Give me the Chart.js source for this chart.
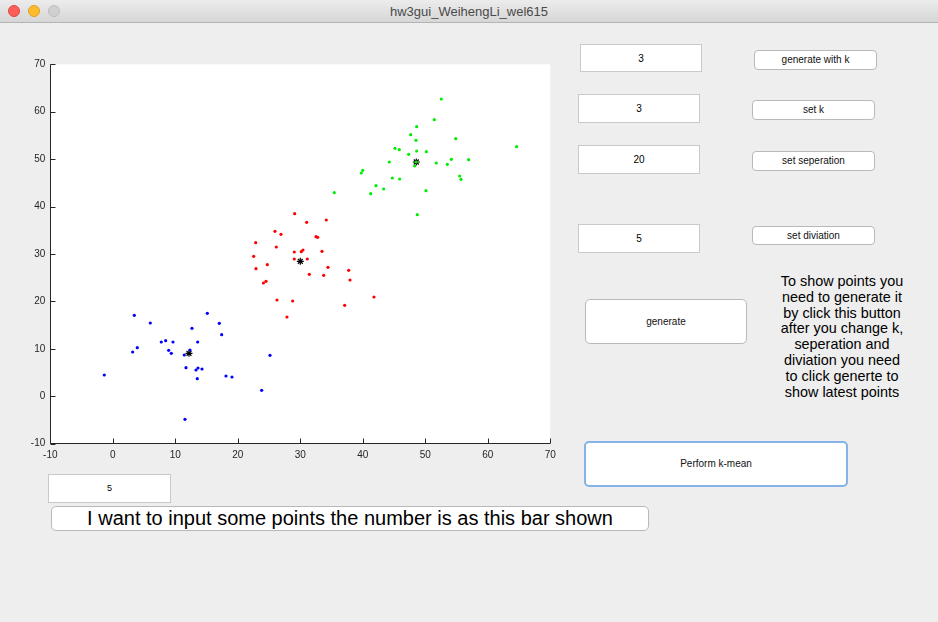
<!DOCTYPE html>
<html><head><meta charset="utf-8">
<script src="https://cdn.jsdelivr.net/npm/chart.js@4.4.0/dist/chart.umd.min.js"></script>
<style>
html,body{margin:0;padding:0;width:938px;height:622px;overflow:hidden;background:#eeeeee;font-family:"Liberation Sans",Arial,Helvetica,sans-serif;}
#titlebar{position:absolute;left:0;top:0;width:938px;height:23px;background:linear-gradient(#ececec,#d6d6d6);border-bottom:1px solid #b4b4b4;box-sizing:border-box;}
#title{position:absolute;left:0;right:0;top:4px;text-align:center;font-size:13px;color:#4a4a4a;}
.dot{position:absolute;top:5px;width:12px;height:12px;border-radius:50%;box-sizing:border-box;}
.edit{position:absolute;background:#fff;border:1px solid #c9c9c9;box-sizing:border-box;font-size:10px;color:#000;text-align:center;}
.btn{position:absolute;background:#fff;border:1px solid #b9b9b9;border-radius:4px;box-sizing:border-box;font-size:10px;color:#111;text-align:center;}
#wrap{position:absolute;left:0;top:40px;width:580px;height:430px;}
#info{position:absolute;left:752px;top:274px;width:180px;text-align:center;font-size:14.4px;line-height:15.8px;color:#000;}
</style>
</head>
<body>
<div id="titlebar">
  <div class="dot" style="left:8px;background:#fc5f57;border:1px solid #df4744;"></div>
  <div class="dot" style="left:28px;background:#fdbc2e;border:1px solid #dea123;"></div>
  <div class="dot" style="left:48px;background:#d0d0d0;border:1px solid #bdbdbd;"></div>
  <div id="title">hw3gui_WeihengLi_wel615</div>
</div>
<div id="wrap"><canvas id="c" width="580" height="430"></canvas></div>

<div class="edit" style="left:580px;top:44px;width:122px;height:28px;line-height:27px;">3</div>
<div class="btn" style="left:754px;top:50px;width:123px;height:20px;line-height:18px;">generate with k</div>
<div class="edit" style="left:578px;top:94px;width:122px;height:29px;line-height:27px;">3</div>
<div class="btn" style="left:752px;top:100px;width:123px;height:20px;line-height:18px;">set k</div>
<div class="edit" style="left:578px;top:145px;width:122px;height:29px;line-height:27px;">20</div>
<div class="btn" style="left:752px;top:151px;width:123px;height:20px;line-height:18px;">set seperation</div>
<div class="edit" style="left:578px;top:224px;width:122px;height:29px;line-height:27px;">5</div>
<div class="btn" style="left:752px;top:226px;width:123px;height:19px;line-height:17px;">set diviation</div>
<div class="btn" style="left:585px;top:299px;width:162px;height:45px;line-height:43px;border-radius:5px;">generate</div>
<div id="info">To show points you<br>need to generate it<br>by click this button<br>after you change k,<br>seperation and<br>diviation you need<br>to click generte to<br>show latest points</div>
<div class="btn" style="left:584px;top:441px;width:264px;height:46px;line-height:42px;border:2px solid #86b2ea;border-radius:5px;">Perform k-mean</div>
<div class="edit" style="left:48px;top:474px;width:123px;height:29px;line-height:27px;font-size:9px;">5</div>
<div class="btn" style="left:51px;top:506px;width:598px;height:25px;line-height:23px;font-size:20px;color:#000;border-radius:5px;">I want to input some points the number is as this bar shown</div>

<script>
// Cluster 1 (blue)
const blueX = [3.44,15.12,6.0,17.04,12.67,17.42,7.76,8.46,9.63,13.58,3.92,3.18,8.94,9.36,11.44,12.35,25.15,-1.36,11.71,13.63,13.31,14.27,13.52,18.11,19.07,23.82,11.55];
const blueY = [17.07,17.5,15.45,15.39,14.33,12.98,11.44,11.72,11.44,11.44,10.24,9.34,9.69,9.06,8.7,9.76,8.64,4.49,6.03,5.96,5.54,5.75,3.71,4.27,4.06,1.26,-4.86];
// Cluster 2 (red)
const redX = [29.1,31.02,34.16,25.95,26.91,32.51,32.78,22.86,26.16,29.04,30.16,30.43,33.47,22.54,29.04,31.12,24.72,22.91,34.43,37.74,31.44,33.74,37.95,24.51,24.1,26.27,28.78,41.79,37.1,27.87];
const redY = [38.5,36.68,37.17,34.79,34.15,33.65,33.52,32.38,31.48,30.42,30.48,30.84,30.57,29.51,28.95,28.95,27.74,26.9,27.2,26.56,25.72,25.51,24.52,24.24,23.88,20.3,20.09,20.93,19.18,16.72];
// Cluster 3 (green)
const greenX = [52.56,51.44,48.62,47.66,54.86,48.51,64.62,45.15,45.84,48.62,50.16,47.34,56.94,54.16,44.24,51.76,53.52,48.56,48.3,39.98,39.76,55.5,55.71,44.72,45.9,42.11,43.34,50.11,35.44,41.26,48.72];
const greenY = [62.68,58.32,56.84,55.16,54.31,53.97,52.63,52.29,51.99,51.72,51.57,51.02,49.88,49.97,49.4,49.19,48.91,49.4,48.56,47.65,47.08,46.45,45.75,46.03,45.81,44.4,43.71,43.35,42.93,42.71,38.29];
// Cluster centres (black asterisks)
const centerX = [12.19,30.0,48.56];
const centerY = [9.06,28.46,49.4];
const xTicks = [-10,0,10,20,30,40,50,60,70];
const yTicks = [-10,0,10,20,30,40,50,60,70];

const pts = (xs, ys) => xs.map((x, i) => ({x, y: ys[i]}));

const matlabAxes = {
  id: 'matlabAxes',
  beforeDraw(chart) {
    const {ctx, chartArea: a} = chart;
    ctx.save();
    ctx.fillStyle = '#ffffff';
    ctx.fillRect(a.left, a.top, a.right - a.left, a.bottom - a.top);
    ctx.restore();
  },
  afterDraw(chart) {
    const {ctx, chartArea: a, scales} = chart;
    ctx.save();
    ctx.strokeStyle = '#262626';
    ctx.lineWidth = 1;
    const L = Math.round(a.left) + 0.5, B = Math.round(a.bottom) - 0.5;
    ctx.beginPath();
    ctx.moveTo(L, a.top); ctx.lineTo(L, B);
    ctx.lineTo(a.right, B);
    xTicks.forEach(v => {
      const px = Math.round(scales.x.getPixelForValue(v)) + 0.5;
      ctx.moveTo(px, B); ctx.lineTo(px, B - 5);
    });
    yTicks.forEach(v => {
      const py = Math.round(scales.y.getPixelForValue(v)) + 0.5;
      ctx.moveTo(L, py); ctx.lineTo(L + 5, py);
    });
    ctx.stroke();
    ctx.restore();
  }
};

const tickFont = {family: '"Liberation Sans", Arial, sans-serif', size: 10};

new Chart(document.getElementById('c'), {
  type: 'scatter',
  data: {
    datasets: [
      {label: 'cluster 1', data: pts(blueX, blueY), backgroundColor: '#0000ff', borderWidth: 0, pointRadius: 1.6},
      {label: 'cluster 2', data: pts(redX, redY), backgroundColor: '#ff0000', borderWidth: 0, pointRadius: 1.6},
      {label: 'cluster 3', data: pts(greenX, greenY), backgroundColor: '#00ee00', borderWidth: 0, pointRadius: 1.6},
      {label: 'centres', data: pts(centerX, centerY), pointStyle: 'star', borderColor: '#000000', backgroundColor: '#000000', borderWidth: 1.2, pointRadius: 3.5}
    ]
  },
  options: {
    responsive: false,
    animation: false,
    devicePixelRatio: 1,
    layout: {padding: {left: 0, top: 24.3, right: 29.7, bottom: 0}},
    plugins: {legend: {display: false}, tooltip: {enabled: false}},
    scales: {
      x: {
        type: 'linear', min: -10, max: 70,
        afterBuildTicks: s => { s.ticks = xTicks.map(v => ({value: v})); },
        ticks: {color: '#262626', font: tickFont, padding: 6, maxRotation: 0},
        grid: {display: false, drawTicks: false},
        border: {display: false},
        afterFit: s => { s.height = 26.3; }
      },
      y: {
        type: 'linear', min: -10, max: 70,
        afterBuildTicks: s => { s.ticks = yTicks.map(v => ({value: v})); },
        ticks: {color: '#262626', font: tickFont, padding: 5},
        grid: {display: false, drawTicks: false},
        border: {display: false},
        afterFit: s => { s.width = 50.3; }
      }
    }
  },
  plugins: [matlabAxes]
});
</script>
</body></html>
